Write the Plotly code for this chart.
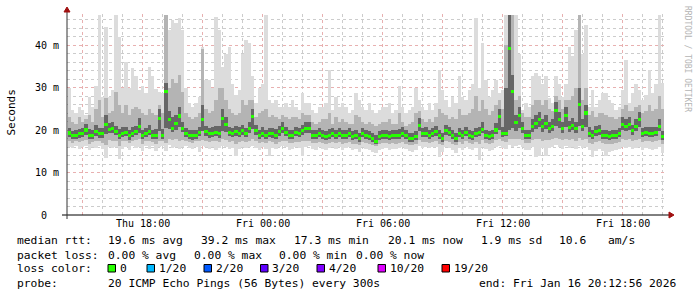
import pandas as pd
import plotly.graph_objects as go

# ---------------- data (ms), one value per 10-minute step ----------------
START = "2026-01-15 14:20"
END_LABEL = "end: Fri Jan 16 20:12:56 2026"

med = [19.3, 18.6, 18.8, 19.1, 19.1, 20.0, 18.8, 18.6, 19.7, 19.1, 19.1, 21.2, 20.2, 20.4, 19.7, 18.8, 19.2, 19.4, 18.6, 19.2, 19.7, 20.8, 18.6, 19.2, 19.7, 18.6, 18.8, 22.7, 18.8, 29.0, 22.5, 20.4, 21.6, 23.3, 20.4, 19.1,
       18.6, 18.6, 18.8, 19.4, 22.4, 19.6, 19.1, 19.2, 19.4, 19.1, 22.7, 21.2, 19.4, 19.1, 19.6, 19.2, 19.8, 19.1, 20.4, 23.1, 19.8, 18.8, 19.2, 18.8, 19.1, 19.1, 18.8, 19.6, 20.4, 19.4, 18.6, 18.8, 19.4, 19.1, 19.8, 20.4,
       20.4, 18.8, 18.6, 19.1, 18.6, 18.4, 18.8, 19.1, 18.6, 19.1, 18.6, 18.8, 19.1, 18.4, 18.6, 18.0, 19.1, 18.8, 18.4, 18.0, 17.4, 18.4, 18.6, 18.8, 18.4, 18.6, 18.6, 18.8, 19.2, 18.6, 18.0, 18.0, 18.4, 21.0, 19.1, 19.2,
       18.8, 19.1, 19.6, 18.6, 18.0, 19.8, 19.4, 18.6, 18.0, 19.1, 18.6, 19.4, 18.8, 18.4, 19.1, 19.4, 20.2, 18.8, 18.4, 18.8, 20.0, 23.1, 19.2, 19.2, 39.1, 29.1, 21.7, 23.5, 20.4, 18.8, 18.6, 20.8, 21.6, 22.4, 20.8, 21.6,
       20.4, 20.8, 24.7, 22.4, 20.4, 23.5, 20.6, 21.0, 20.4, 25.9, 20.8, 24.0, 19.2, 18.6, 19.6, 19.8, 18.8, 18.6, 18.4, 18.6, 18.8, 19.1, 21.2, 20.8, 21.2, 19.8, 20.8, 22.4, 19.1, 19.4, 19.2, 19.2, 19.4, 20.8, 18.4]

hi = [30.0, 24.7, 24.0, 25.5, 24.7, 23.5, 27.8, 25.5, 30.4, 47.0, 27.8, 44.3, 27.8, 29.4, 47.0, 42.0, 30.0, 36.1, 30.0, 34.5, 32.6, 29.4, 30.4, 28.6, 34.9, 32.6, 29.6, 29.0, 28.6, 47.0, 43.5, 45.9, 45.1, 46.3, 43.5, 30.0,
      26.3, 25.5, 26.3, 27.8, 39.6, 31.8, 31.8, 30.0, 46.7, 43.5, 34.9, 38.0, 39.6, 30.8, 28.2, 29.4, 38.0, 41.2, 40.4, 32.6, 26.3, 30.0, 30.8, 47.0, 27.1, 26.3, 27.1, 25.5, 25.5, 26.3, 25.5, 27.1, 25.5, 24.7, 28.6, 26.3,
      26.3, 24.7, 24.0, 25.5, 25.5, 26.3, 34.1, 24.7, 27.8, 25.5, 26.3, 25.5, 24.0, 24.7, 28.6, 27.1, 25.5, 24.7, 26.3, 24.7, 24.0, 24.7, 25.5, 25.5, 26.3, 24.0, 24.7, 30.4, 25.5, 24.0, 24.7, 25.5, 30.0, 27.1, 25.5, 24.7,
      26.3, 24.7, 26.3, 34.1, 29.4, 27.1, 25.5, 27.8, 26.3, 32.6, 27.8, 27.1, 29.4, 30.8, 46.3, 30.0, 40.4, 31.8, 27.8, 29.4, 31.8, 28.6, 29.4, 47.0, 47.0, 47.0, 47.0, 38.0, 24.7, 26.3, 25.5, 32.6, 33.3, 32.6, 30.8, 32.6,
      27.5, 26.3, 32.6, 30.8, 27.8, 30.8, 39.6, 37.3, 43.5, 47.0, 38.0, 44.7, 25.5, 29.4, 25.5, 27.1, 28.6, 28.6, 27.1, 26.3, 24.7, 25.5, 29.4, 36.5, 26.3, 28.6, 30.8, 29.4, 27.1, 28.2, 34.1, 28.6, 30.8, 47.0, 31.0]

hi2 = [23.0, 22.0, 21.5, 23.0, 22.0, 22.5, 23.5, 22.0, 25.0, 27.0, 23.0, 27.5, 24.0, 24.5, 29.0, 26.0, 24.0, 26.0, 23.5, 25.0, 25.5, 25.0, 24.0, 23.5, 25.0, 24.0, 23.5, 26.0, 24.0, 47.0, 30.0, 32.0, 31.0, 33.0, 29.0, 24.0,
       23.0, 22.5, 23.0, 24.0, 39.0, 25.0, 24.0, 24.5, 27.0, 30.0, 30.0, 27.0, 25.0, 24.0, 23.5, 24.0, 27.0, 26.0, 27.0, 27.0, 23.0, 24.0, 24.5, 25.0, 23.0, 23.5, 23.0, 22.5, 23.5, 23.0, 22.5, 23.0, 23.0, 22.5, 24.0, 23.5,
       23.5, 22.0, 21.5, 22.0, 22.5, 22.5, 24.0, 21.5, 23.0, 22.0, 22.5, 22.0, 21.5, 21.5, 23.5, 23.0, 22.0, 21.5, 22.0, 21.5, 21.0, 21.5, 22.0, 22.0, 22.5, 21.5, 21.5, 24.0, 22.0, 21.0, 21.5, 22.0, 24.0, 24.5, 22.5, 22.0,
       22.5, 22.0, 23.0, 25.0, 24.0, 23.5, 22.5, 23.0, 22.5, 25.0, 23.5, 23.5, 24.0, 25.0, 28.0, 24.5, 27.0, 25.0, 23.5, 24.5, 26.0, 27.0, 25.0, 40.0, 47.0, 47.0, 27.0, 28.0, 24.0, 23.0, 23.0, 26.0, 27.0, 27.0, 26.0, 27.0,
       25.0, 24.5, 28.0, 27.0, 25.0, 27.0, 27.0, 28.0, 30.0, 47.0, 27.0, 30.0, 23.5, 24.5, 23.0, 24.0, 24.0, 23.5, 23.0, 23.0, 22.5, 23.0, 25.0, 26.0, 24.5, 24.5, 25.5, 26.0, 24.0, 24.5, 26.0, 24.5, 25.0, 28.0, 25.0]

hi3 = [20.5, 19.8, 20.0, 20.3, 20.4, 21.3, 20.2, 19.9, 21.2, 20.5, 20.4, 23.5, 21.6, 22.0, 21.0, 20.2, 20.6, 20.8, 19.9, 20.6, 21.0, 22.8, 20.0, 20.5, 21.2, 19.9, 20.3, 25.0, 20.2, 31.0, 24.5, 23.0, 23.5, 25.5, 22.0, 20.5,
       19.9, 19.9, 20.1, 20.8, 26.0, 21.0, 20.4, 20.6, 21.0, 21.0, 25.0, 23.0, 20.8, 20.4, 21.0, 20.6, 21.2, 20.5, 22.0, 25.0, 21.2, 20.1, 20.6, 20.1, 20.4, 20.5, 20.2, 21.0, 22.0, 20.8, 19.9, 20.1, 20.8, 20.4, 21.2, 22.0,
       22.0, 20.1, 19.9, 20.4, 19.9, 19.7, 20.2, 20.4, 19.9, 20.4, 19.9, 20.1, 20.4, 19.7, 20.0, 19.4, 20.4, 20.1, 19.7, 19.3, 18.8, 19.7, 19.9, 20.1, 19.7, 19.9, 19.9, 20.2, 20.6, 19.9, 19.3, 19.4, 19.8, 22.8, 20.4, 20.6,
       20.1, 20.4, 21.0, 20.0, 19.4, 21.2, 20.8, 19.9, 19.3, 20.4, 19.9, 20.8, 20.1, 19.7, 20.4, 20.8, 21.8, 20.1, 19.7, 20.1, 21.6, 25.0, 20.6, 30.0, 47.0, 33.0, 23.5, 25.5, 22.0, 20.1, 19.9, 22.5, 23.5, 24.2, 22.5, 23.5,
       22.0, 22.5, 26.5, 24.2, 22.0, 25.5, 22.2, 22.8, 22.0, 30.0, 22.5, 26.0, 20.6, 19.9, 21.0, 21.2, 20.1, 19.9, 19.7, 19.9, 20.1, 20.4, 23.0, 22.5, 23.0, 21.2, 22.5, 24.2, 20.4, 20.8, 20.6, 20.6, 20.8, 22.5, 19.7]

lo3 = [18.4, 17.8, 18.0, 18.2, 18.3, 18.9, 17.9, 17.8, 18.7, 18.2, 18.2, 19.0, 19.2, 19.3, 18.8, 17.9, 18.3, 18.5, 17.7, 18.4, 18.8, 19.4, 17.8, 18.4, 18.8, 17.8, 18.0, 19.8, 18.0, 20.5, 20.2, 19.5, 20.0, 20.8, 19.5, 18.3,
       17.8, 17.7, 18.0, 18.5, 19.8, 18.7, 18.2, 18.4, 18.5, 18.2, 19.8, 19.6, 18.5, 18.3, 18.7, 18.4, 18.9, 18.3, 19.4, 20.2, 18.9, 18.0, 18.4, 18.0, 18.3, 18.2, 18.0, 18.7, 19.4, 18.6, 17.8, 18.0, 18.6, 18.3, 18.9, 19.4,
       19.3, 18.0, 17.8, 18.3, 17.8, 17.6, 18.0, 18.3, 17.8, 18.3, 17.8, 18.0, 18.3, 17.6, 17.8, 17.2, 18.3, 18.0, 17.6, 17.2, 16.7, 17.6, 17.8, 18.0, 17.6, 17.8, 17.8, 18.0, 18.4, 17.8, 17.2, 17.2, 17.6, 19.8, 18.3, 18.4,
       18.0, 18.3, 18.7, 17.8, 17.2, 18.9, 18.5, 17.8, 17.2, 18.3, 17.8, 18.5, 18.0, 17.6, 18.3, 18.5, 19.2, 18.0, 17.6, 18.0, 19.0, 20.0, 18.4, 18.5, 20.0, 20.5, 19.8, 20.5, 19.4, 18.0, 17.8, 19.6, 20.2, 20.8, 19.6, 20.2,
       19.4, 19.8, 21.0, 20.5, 19.4, 20.8, 19.6, 19.9, 19.4, 21.0, 19.8, 20.8, 18.4, 17.8, 18.7, 18.9, 18.0, 17.8, 17.6, 17.8, 18.0, 18.3, 20.0, 19.8, 20.0, 18.9, 19.8, 20.6, 18.3, 18.6, 18.4, 18.4, 18.6, 19.8, 17.6]

lo2 = [17.4, 17.0, 17.3, 17.1, 17.4, 17.6, 16.8, 17.2, 17.5, 17.3, 17.0, 16.5, 17.6, 17.4, 17.5, 16.2, 17.3, 17.4, 16.9, 17.5, 17.6, 17.8, 16.8, 17.4, 17.3, 17.2, 16.6, 17.5, 17.4, 17.0, 17.9, 17.6, 17.8, 17.5, 17.6, 17.4,
       17.2, 17.0, 17.3, 17.5, 17.6, 17.4, 17.2, 17.3, 17.4, 17.1, 17.8, 17.6, 17.2, 17.3, 16.6, 17.2, 17.4, 17.1, 17.5, 17.8, 17.4, 17.0, 17.2, 17.0, 17.3, 17.1, 16.8, 17.2, 17.5, 17.3, 16.9, 17.0, 17.2, 17.1, 17.3, 17.4,
       17.5, 17.0, 16.9, 17.2, 16.9, 16.7, 17.0, 17.2, 16.9, 17.2, 16.8, 17.0, 17.1, 16.7, 16.8, 16.5, 17.1, 17.0, 16.7, 16.4, 16.2, 16.7, 16.9, 17.0, 16.7, 16.9, 16.8, 17.0, 17.2, 16.8, 16.5, 16.4, 16.8, 17.6, 17.2, 17.2,
       17.0, 17.2, 17.4, 16.6, 16.4, 17.5, 17.2, 16.8, 16.4, 17.2, 16.8, 17.3, 17.0, 16.7, 17.2, 16.6, 17.6, 17.0, 16.7, 17.0, 17.6, 18.0, 17.3, 17.2, 18.0, 17.8, 17.8, 18.0, 17.6, 17.0, 16.9, 17.6, 17.8, 18.0, 17.4, 17.6,
       17.6, 17.8, 18.2, 17.8, 17.6, 18.0, 17.6, 17.8, 17.5, 18.2, 17.6, 18.0, 17.0, 16.6, 17.2, 17.4, 17.0, 16.8, 16.6, 16.8, 17.0, 17.2, 17.8, 17.6, 17.8, 17.4, 17.6, 17.9, 17.2, 17.4, 17.3, 17.2, 17.4, 17.6, 16.8]

lo = [16.0, 15.8, 16.2, 15.5, 16.0, 16.3, 15.2, 16.0, 15.7, 16.2, 15.5, 13.5, 16.0, 15.8, 16.1, 13.2, 15.6, 16.0, 15.4, 16.2, 15.8, 16.0, 15.0, 16.2, 15.5, 16.3, 15.0, 16.0, 16.2, 15.0, 16.4, 15.8, 16.1, 15.5, 16.0, 16.2,
      15.8, 15.5, 16.0, 14.8, 16.2, 15.9, 15.6, 16.0, 15.2, 15.8, 16.3, 16.0, 15.5, 15.8, 13.8, 15.6, 16.0, 15.7, 16.1, 16.2, 15.8, 15.4, 15.9, 15.6, 14.0, 15.8, 15.5, 15.9, 16.2, 16.0, 15.3, 15.6, 15.9, 15.7, 13.9, 16.0,
      16.2, 15.6, 15.4, 15.9, 15.5, 15.2, 15.8, 16.0, 15.6, 15.9, 15.3, 15.7, 15.9, 15.4, 15.6, 14.8, 15.9, 15.6, 15.2, 14.9, 14.7, 15.3, 15.6, 15.8, 15.4, 15.6, 15.5, 15.7, 16.0, 15.5, 15.0, 14.9, 15.3, 16.2, 15.8, 15.9,
      15.7, 15.9, 16.1, 13.7, 14.8, 16.0, 15.7, 15.3, 14.7, 15.8, 15.2, 15.9, 15.5, 15.2, 15.8, 12.9, 16.0, 15.5, 15.1, 15.4, 16.0, 16.3, 15.7, 15.6, 16.4, 16.0, 16.2, 16.4, 15.9, 15.4, 15.2, 16.0, 13.7, 14.0, 15.8, 13.8,
      15.8, 16.1, 16.4, 15.9, 15.6, 16.2, 15.7, 16.0, 15.5, 16.3, 15.8, 16.1, 15.3, 13.7, 15.1, 15.5, 15.0, 13.9, 14.8, 15.0, 15.3, 15.5, 16.0, 15.8, 16.1, 15.6, 15.8, 16.0, 15.4, 15.7, 15.5, 15.3, 15.6, 15.9, 14.5]

y_ticks = [0, 10, 20, 30, 40]
y_tick_text = ["0\u00a0\u00a0", "10 m", "20 m", "30 m", "40 m"]
x_label_times = ["2026-01-15 18:00", "2026-01-16 00:00", "2026-01-16 06:00", "2026-01-16 12:00", "2026-01-16 18:00"]
x_label_text = ["Thu 18:00", "Fri 00:00", "Fri 06:00", "Fri 12:00", "Fri 18:00"]

legend_rows = [
    [("median rtt:", 16), ("19.6 ms avg", 107), ("39.2 ms max", 200), ("17.3 ms min", 293), ("20.1 ms now", 386.5), ("1.9 ms sd", 480), ("10.6", 558), ("am/s", 606.5)],
    [("packet loss:", 16), ("0.00 % avg", 107), ("0.00 % max", 193), ("0.00 % min", 278), ("0.00 % now", 355)],
    [("loss color:", 16)],
    [("probe:", 16), ("20 ICMP Echo Pings (56 Bytes) every 300s", 107), (END_LABEL, 478)],
]
loss_labels = ["0", "1/20", "2/20", "3/20", "4/20", "10/20", "19/20"]
loss_colors = ["#26ff00", "#00b8ff", "#0059ff", "#5e00ff", "#7e00ff", "#dd00ff", "#ff0000"]
loss_box_x = [108, 147, 204, 260.5, 317, 378, 442]

# ---------------- figure ----------------
n = min(len(med), len(hi), len(hi2), len(hi3), len(lo), len(lo2), len(lo3))
times = pd.date_range(START, periods=n, freq="10min")
W = 10 * 60 * 1000

fig = go.Figure()

def band(lower, upper, color):
    fig.add_trace(go.Bar(x=times, base=lower[:n], y=[u - l for u, l in zip(upper[:n], lower[:n])],
                         width=W, marker=dict(color=color, line=dict(width=0)),
                         hoverinfo="skip", showlegend=False))

band(lo, hi, "#dcdcdc")
band(lo2, hi2, "#b4b4b4")
band(lo3, hi3, "#666666")
MH = 0.36
fig.add_trace(go.Bar(x=times, base=[m - MH for m in med[:n]], y=[2 * MH] * n, width=W,
                     marker=dict(color=loss_colors[0], line=dict(width=0)), hoverinfo="skip", showlegend=False))

L, R, T, B = 67, 667, 14, 215
def px(xp):
    return (xp - L) / (R - L)
def py(yp):
    return (B - yp) / (B - T)

hour_ticks = pd.date_range("2026-01-15 15:00", "2026-01-16 20:00", freq="1h")
major_ticks = pd.date_range("2026-01-15 15:00", "2026-01-16 18:00", freq="3h")

fig.update_layout(
    width=697, height=297, margin=dict(l=L, r=697 - R, t=T, b=297 - B),
    paper_bgcolor="white", plot_bgcolor="white", barmode="overlay", bargap=0,
    showlegend=False,
    xaxis=dict(range=["2026-01-15 14:12:56", "2026-01-16 20:12:56"], type="date",
               tickmode="array", tickvals=list(major_ticks), ticktext=["" for _ in major_ticks],
               showgrid=True, gridcolor="#e8b0b0", griddash="dot", gridwidth=1,
               minor=dict(tickmode="array", tickvals=list(hour_ticks), showgrid=True,
                          gridcolor="#cccccc", griddash="dot", gridwidth=1),
               showline=False, zeroline=False, ticks="", fixedrange=True),
    yaxis=dict(range=[0, 47.3], tickmode="array", tickvals=y_ticks, ticktext=y_tick_text,
               showgrid=True, gridcolor="#e8b0b0", griddash="dot", gridwidth=1,
               minor=dict(tickmode="linear", tick0=0, dtick=2, showgrid=True,
                          gridcolor="#cccccc", griddash="dot", gridwidth=1),
               zeroline=False, showline=False, ticks="", ticklabelstandoff=7,
               tickfont=dict(family="DejaVu Sans Mono", size=10, color="#000"), fixedrange=True),
)

ann = []
def text(t, x, y, size=11.3, color="#000000", anchor="left", angle=0, family="DejaVu Sans Mono"):
    ann.append(dict(text=t, x=px(x), y=py(y), xref="paper", yref="paper", xanchor=anchor, yanchor="middle",
                    showarrow=False, textangle=angle, borderpad=0,
                    font=dict(family=family, size=size, color=color)))

# x tick labels (every 6 h)
for tv, tt in zip(x_label_times, x_label_text):
    ann.append(dict(text=tt, x=tv, y=py(224), xref="x", yref="paper", xanchor="center", yanchor="middle",
                    showarrow=False, font=dict(family="DejaVu Sans Mono", size=10, color="#000")))

text("Seconds", 10.5, 113, size=11, anchor="center", angle=-90)
text("RRDTOOL / TOBI OETIKER", 687, 59, size=8, color="#b4b4b4", anchor="center", angle=90)

row_y = [240.5, 255, 268.5, 283]
for row, yy in zip(legend_rows, row_y):
    for t, x in row:
        text(t, x, yy)
for lab, bx in zip(loss_labels, loss_box_x):
    text(lab, bx + 10.5, row_y[2])

shapes = []
for col, bx in zip(loss_colors, loss_box_x):
    shapes.append(dict(type="rect", xref="paper", yref="paper", x0=px(bx), x1=px(bx + 7.5),
                       y0=py(272), y1=py(264.5), fillcolor=col, line=dict(color="#000", width=1)))

# axes lines and arrows
shapes.append(dict(type="line", xref="paper", yref="paper", x0=px(62), x1=px(670), y0=py(215), y1=py(215),
                   line=dict(color="#000", width=1)))
shapes.append(dict(type="line", xref="paper", yref="paper", x0=px(67), x1=px(67), y0=py(219), y1=py(11),
                   line=dict(color="#333", width=1)))
def tri(pts):
    return "M " + " L ".join(f"{px(a)},{py(b)}" for a, b in pts) + " Z"
shapes.append(dict(type="path", xref="paper", yref="paper", path=tri([(669, 212), (669, 218), (674, 215)]),
                   fillcolor="#a01010", line=dict(color="#a01010", width=1)))
shapes.append(dict(type="path", xref="paper", yref="paper", path=tri([(64, 12), (70, 12), (67, 7)]),
                   fillcolor="#a01010", line=dict(color="#a01010", width=1)))

fig.update_layout(annotations=ann, shapes=shapes)
fig.write_html("out.html")
